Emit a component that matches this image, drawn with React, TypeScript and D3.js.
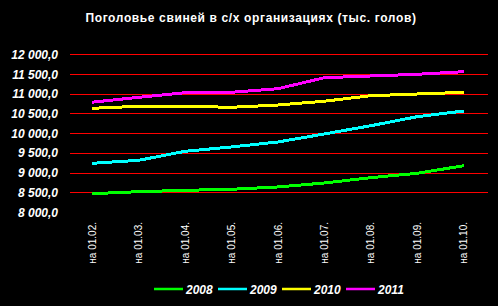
import React from "react";
import * as d3 from "d3";

const categories = ["на 01.02.", "на 01.03.", "на 01.04.", "на 01.05.", "на 01.06.", "на 01.07.", "на 01.08.", "на 01.09.", "на 01.10."];
const s2008 = [8465, 8515, 8550, 8576, 8635, 8736, 8871, 8982, 9175];
const s2009 = [9235, 9311, 9540, 9650, 9776, 9980, 10189, 10418, 10562];
const s2010 = [10630, 10681, 10681, 10656, 10714, 10810, 10950, 10993, 11036];
const s2011 = [10785, 10909, 11027, 11036, 11128, 11407, 11450, 11493, 11559];
const seriesNames = ["2008", "2009", "2010", "2011"];
const seriesColors = ["#00FF00", "#00FFFF", "#FFFF00", "#FF00FF"];
const yTicks = [8000, 8500, 9000, 9500, 10000, 10500, 11000, 11500, 12000];
const title = "Поголовье свиней в с/х организациях (тыс. голов)";

const W = 498, H = 306;

export default function App() {
  const series = [s2008, s2009, s2010, s2011];
  const x = d3.scalePoint<string>().domain(categories).range([69, 487]).padding(0.5);
  const y = d3.scaleLinear().domain([8000, 12000]).range([212, 54.3]);
  const line = d3.line<number>().x((_, i) => x(categories[i]) as number).y(d => y(d));
  const fmt = (v: number) => d3.format(",.1f")(v).replace(/,/g, " ").replace(".", ",");
  const font = "Arial, 'Liberation Sans', sans-serif";
  const legendX = [154, 218, 282, 346];
  return (
    <svg width={W} height={H} style={{ position: "absolute", left: 0, top: 0, background: "#000" }} fontFamily={font}>
      <rect x={0} y={0} width={W} height={H} fill="#000" />
      <text x={251} y={22} fill="#fff" fontSize={12} fontWeight="bold" textAnchor="middle" letterSpacing={0.63}>{title}</text>
      {yTicks.filter(t => t > 8000).map(t => (
        <line key={t} x1={70} x2={488} y1={Math.round(y(t)) + 0.5} y2={Math.round(y(t)) + 0.5} stroke="#FF0000" strokeWidth={1} />
      ))}
      {yTicks.map(t => (
        <text key={"l" + t} x={58} y={y(t) + 4.5} fill="#fff" fontSize={12} fontWeight="bold" fontStyle="italic" textAnchor="end">{fmt(t)}</text>
      ))}
      {categories.map(c => (
        <text key={c} transform={`translate(${(x(c) as number) + 3.5},222) rotate(-90)`} fill="#fff" fontSize={10} textAnchor="end">{c}</text>
      ))}
      {series.map((s, i) => (
        <path key={i} d={line(s) || ""} fill="none" stroke={seriesColors[i]} strokeWidth={3} shapeRendering="crispEdges" />
      ))}
      {seriesNames.map((n, i) => (
        <g key={n}>
          <line x1={legendX[i]} x2={legendX[i] + 29} y1={289} y2={289} stroke={seriesColors[i]} strokeWidth={2.5} />
          <text x={legendX[i] + 32} y={293.5} fill="#fff" fontSize={12} fontWeight="bold" fontStyle="italic">{n}</text>
        </g>
      ))}
    </svg>
  );
}
